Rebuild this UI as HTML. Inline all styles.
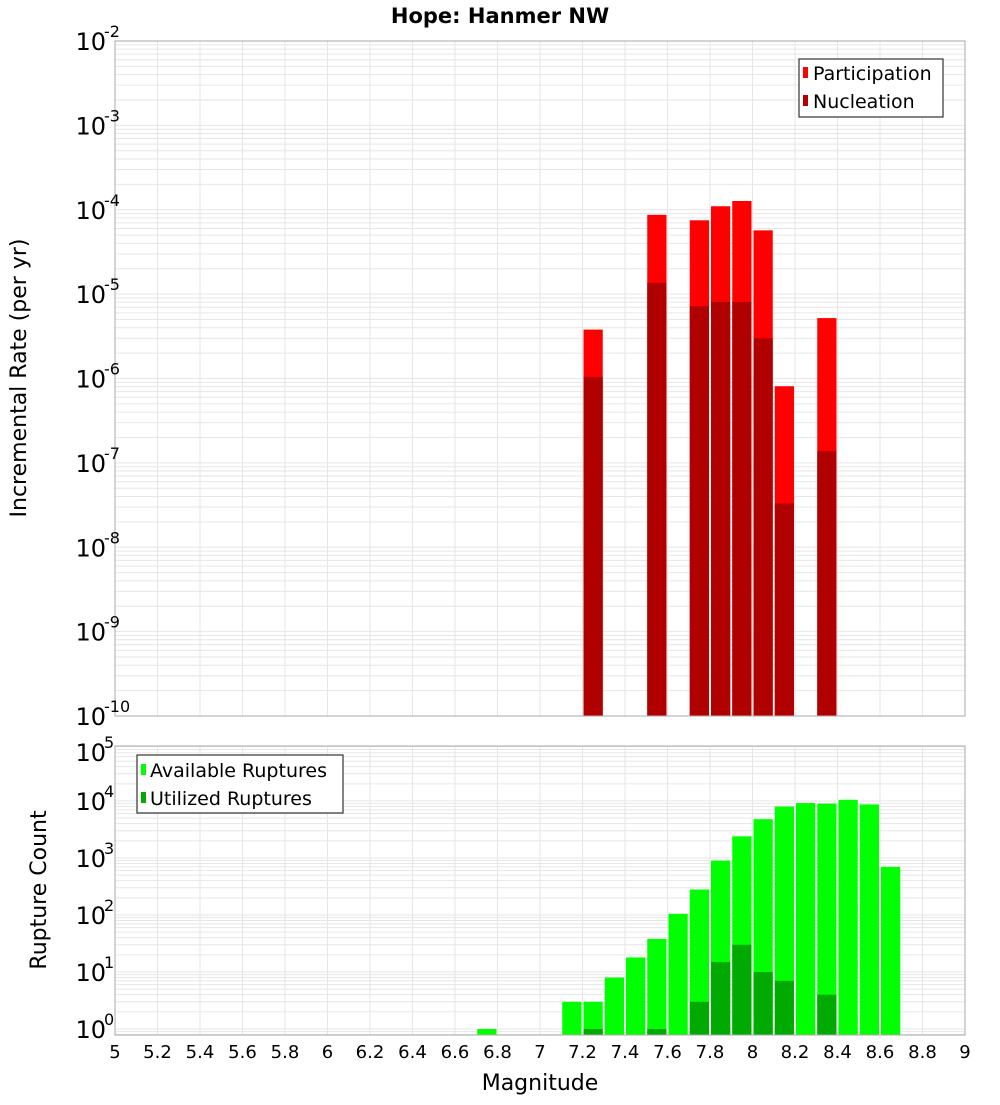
<!DOCTYPE html>
<html><head><meta charset="utf-8"><style>
body{margin:0;background:#fff;}
svg text{font-family:"DejaVu Sans","Liberation Sans",sans-serif;}
</style></head><body>
<svg id="chart" width="1000" height="1100" xmlns="http://www.w3.org/2000/svg">
<rect x="0" y="0" width="1000" height="1100" fill="#fff"/>
<text x="500" y="23" text-anchor="middle" font-size="21" font-weight="bold">Hope: Hanmer NW</text>
<g id="topPlot"></g>
<g id="botPlot"></g>
<text transform="translate(26,378) rotate(-90)" text-anchor="middle" font-size="22">Incremental Rate (per yr)</text>
<text transform="translate(46,890) rotate(-90)" text-anchor="middle" font-size="22">Rupture Count</text>
<text x="540" y="1090" text-anchor="middle" font-size="22">Magnitude</text>
<g>
<rect x="799" y="59" width="144" height="58" fill="#fff" stroke="#333" stroke-width="1.2"/>
<rect x="803" y="67" width="5" height="11" fill="#ff0000"/>
<text x="813" y="80" font-size="19">Participation</text>
<rect x="803" y="95" width="5" height="11" fill="#b00000"/>
<text x="813" y="108" font-size="19">Nucleation</text>
</g>
<g>
<rect x="137" y="755" width="206" height="58" fill="#fff" stroke="#333" stroke-width="1.2"/>
<rect x="141" y="764" width="5" height="11" fill="#00ff00"/>
<text x="150" y="777" font-size="19">Available Ruptures</text>
<rect x="141" y="792" width="5" height="11" fill="#00aa00"/>
<text x="150" y="805" font-size="19">Utilized Ruptures</text>
</g>
</svg>
<script>
const rateMags=[7.25,7.55,7.75,7.85,7.95,8.05,8.15,8.35];
const participation=[3.8e-6,8.7e-5,7.5e-5,1.1e-4,1.27e-4,5.7e-5,8.1e-7,5.2e-6];
const nucleation=[1.04e-6,1.36e-5,7.2e-6,8.1e-6,8.1e-6,3.0e-6,3.3e-8,1.38e-7];
const countMags=[6.75,7.15,7.25,7.35,7.45,7.55,7.65,7.75,7.85,7.95,8.05,8.15,8.25,8.35,8.45,8.55,8.65];
const available=[1,3,3,8,18,38,105,280,900,2400,4800,8000,9200,9000,10500,8700,700];
const utilized=[0,0,1,0,0,1,0,3,15,30,10,7,0,4,0,0,0];
const xTicks=[5,5.2,5.4,5.6,5.8,6,6.2,6.4,6.6,6.8,7,7.2,7.4,7.6,7.8,8,8.2,8.4,8.6,8.8,9];
const topDecades=[-2,-3,-4,-5,-6,-7,-8,-9,-10];
const botDecades=[0,1,2,3,4,5];

const NS="http://www.w3.org/2000/svg";
const X0=115,X1=965;
function xs(m){return X0+(m-5)/4*(X1-X0);}
const T0=41,T1=716;
function yTop(v){return T0+(-2-Math.log10(v))*(T1-T0)/8;}
const B0=746,B1=1035;
function yBot(v){return 1029-57*Math.log10(v);}
function mk(p,tag,a){const e=document.createElementNS(NS,tag);for(const k in a)e.setAttribute(k,a[k]);p.appendChild(e);return e;}
const gTop=document.getElementById('topPlot'),gBot=document.getElementById('botPlot');

function grid(g,y0,y1,decs,yf){
  for(const d of decs){for(let k=1;k<10;k++){const y=yf(k*Math.pow(10,d));if(y>=y0&&y<=y1){const l=mk(g,'line',{x1:X0,x2:X1,y1:y,y2:y,stroke:'#e6e6e6','stroke-width':1});}}}
  for(const t of xTicks){const x=xs(t);const l=mk(g,'line',{x1:x,x2:x,y1:y0,y2:y1,stroke:'#e6e6e6','stroke-width':1});}
}
grid(gTop,T0,T1,[-3,-4,-5,-6,-7,-8,-9,-10],yTop);
grid(gBot,B0,B1,[-1,0,1,2,3,4],yBot);

function bar(g,m,v,yf,base,fill,name){
  if(v<=0)return;const x=xs(m-0.05)+1,w=xs(m+0.05)-xs(m-0.05)-2;const y=Math.min(yf(v),base-4);
  const r=mk(g,'rect',{x:x,y:y,width:w,height:base-y,fill:fill});
  
  
}
rateMags.forEach((m,i)=>bar(gTop,m,participation[i],yTop,T1,'#ff0000','participation-bar'));
rateMags.forEach((m,i)=>bar(gTop,m,nucleation[i],yTop,T1,'#b00000','nucleation-bar'));
countMags.forEach((m,i)=>bar(gBot,m,available[i],yBot,B1,'#00ff00','available-bar'));
countMags.forEach((m,i)=>bar(gBot,m,utilized[i],yBot,B1,'#00aa00','utilized-bar'));

let f=mk(gTop,'rect',{x:X0,y:T0,width:X1-X0,height:T1-T0,fill:'none',stroke:'#aaa','stroke-width':1});


f=mk(gBot,'rect',{x:X0,y:B0,width:X1-X0,height:B1-B0,fill:'none',stroke:'#aaa','stroke-width':1});



function ylabel(g,d,y){
  const t=mk(g,'text',{x:106,y:y+9,'text-anchor':'end','font-size':24});
  
  
  t.textContent='10';
  const s=mk(g,'text',{x:104,y:y-4,'font-size':16});
  
  
  s.textContent=String(d);
}
topDecades.forEach(d=>ylabel(gTop,d,yTop(Math.pow(10,d))));
botDecades.forEach(d=>ylabel(gBot,d,Math.max(yBot(Math.pow(10,d)),752)));
xTicks.forEach(t=>{const e=mk(gBot,'text',{x:xs(t),y:1058,'text-anchor':'middle','font-size':18});
  
  
  e.textContent=String(t);});
</script>
</body></html>
